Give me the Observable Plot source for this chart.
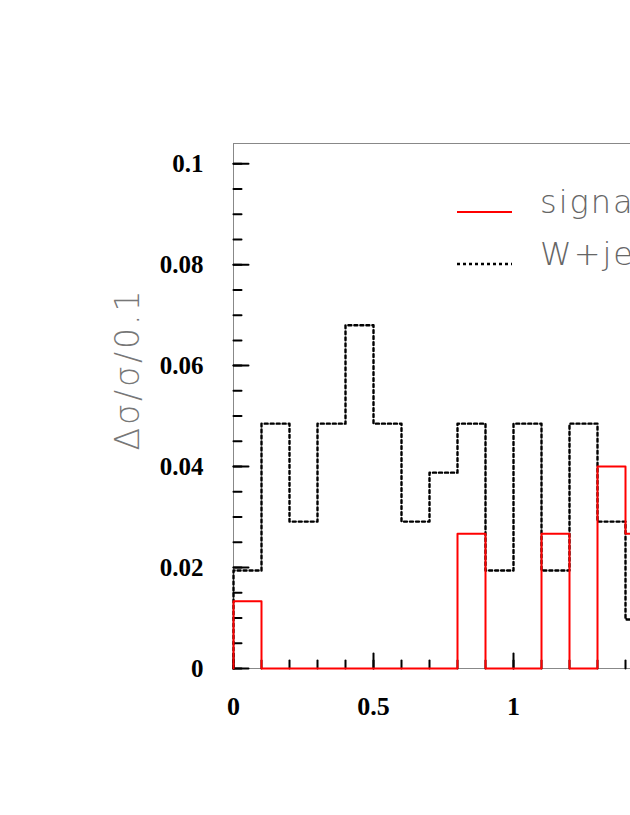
<!DOCTYPE html>
<html>
<head>
<meta charset="utf-8">
<script src="https://cdn.jsdelivr.net/npm/d3@7"></script>
<script src="https://cdn.jsdelivr.net/npm/@observablehq/plot@0.6"></script>
<style>
  html, body { margin: 0; padding: 0; background: #fff; width: 630px; height: 815px; overflow: hidden; }
  #wrap { position: relative; width: 900px; height: 815px; }
  .leg { position: absolute; font-family: "DejaVu Sans", sans-serif; font-weight: 200; font-size: 32px; color: #666; letter-spacing: 2px; white-space: nowrap; line-height: 1; }
  .sw { position: absolute; }
</style>
</head>
<body>
<div id="wrap"></div>
<script>
// ---- data ----
const binEdges = [0, 0.1, 0.2, 0.3, 0.4, 0.5, 0.6, 0.7, 0.8, 0.9, 1.0, 1.1, 1.2, 1.3, 1.4, 1.5];
const wjets  = [0.0194, 0.0485, 0.0291, 0.0485, 0.0680, 0.0485, 0.0291, 0.0388, 0.0485, 0.0194, 0.0485, 0.0194, 0.0485, 0.0291, 0.0097];
const signal = [0.0133, 0, 0, 0, 0, 0, 0, 0, 0.0267, 0, 0, 0.0267, 0, 0.0400, 0.0267];
const seriesNames = ["signal", "W+jets"];
const yTicks = [0, 0.02, 0.04, 0.06, 0.08, 0.1];
const yTickLabels = ["0", "0.02", "0.04", "0.06", "0.08", "0.1"];
const yMinor = d3.range(0, 0.1001, 0.005);
const xTicks = [0, 0.5, 1];
const xTickLabels = ["0", "0.5", "1"];
const xMajor = [0, 0.5, 1, 1.5, 2];
const xMinor = d3.range(0, 2.001, 0.1);
const yTitle = "Δσ/σ/0.1";

function stepPoints(vals) {
  const pts = [{x: binEdges[0], y: 0}];
  vals.forEach((v, i) => pts.push({x: binEdges[i], y: v}));
  pts.push({x: binEdges[vals.length], y: vals[vals.length - 1]});
  pts.push({x: binEdges[vals.length], y: 0});
  return pts;
}

const tickShape = { draw(ctx, l) { ctx.moveTo(0, 0); ctx.lineTo(0, -l); } };
const serif = "'Liberation Serif', 'Times New Roman', serif";

const chart = Plot.plot({
  width: 900, height: 815,
  marginLeft: 233, marginRight: 107, marginTop: 143, marginBottom: 147,
  x: {domain: [0, 2]},
  y: {domain: [0, 0.104]},
  style: {background: "transparent", overflow: "visible"},
  marks: [
    Plot.frame({stroke: "#888", strokeWidth: 1}),
    // y ticks (inward)
    Plot.vector(yMinor, {x: 0, y: d => d, length: 8, rotate: 90, anchor: "start", shape: tickShape, stroke: "black", strokeWidth: 2}),
    Plot.vector(yTicks, {x: 0, y: d => d, length: 15, rotate: 90, anchor: "start", shape: tickShape, stroke: "black", strokeWidth: 2}),
    // x ticks (inward)
    Plot.vector(xMinor, {x: d => d, y: 0, length: 8, anchor: "start", shape: tickShape, stroke: "black", strokeWidth: 2}),
    Plot.vector(xMajor, {x: d => d, y: 0, length: 15, anchor: "start", shape: tickShape, stroke: "black", strokeWidth: 2}),
    Plot.axisY(yTicks, {tickSize: 0, tickPadding: 30, label: null, tickFormat: d => yTickLabels[yTicks.indexOf(d)],
      fontSize: 25, fontWeight: "bold", fontFamily: serif, fill: "black"}),
    Plot.axisX(xTicks, {tickSize: 0, tickPadding: 28, label: null, tickFormat: d => xTickLabels[xTicks.indexOf(d)],
      fontSize: 26, fontWeight: "bold", fontFamily: serif, fill: "black"}),
    Plot.line(stepPoints(wjets), {x: "x", y: "y", curve: "step-after", stroke: "black", strokeWidth: 2.4, strokeDasharray: "3,3"}),
    Plot.line(stepPoints(signal), {x: "x", y: "y", curve: "step-after", stroke: "#ff0000", strokeWidth: 2}),
    Plot.text([yTitle], {frameAnchor: "left", dx: -105, dy: -37, rotate: -90, textAnchor: "middle", fontSize: 33,
      fill: "#777", fontFamily: "'DejaVu Sans', sans-serif", fontWeight: 200})
  ]
});
document.getElementById("wrap").appendChild(chart);
d3.select(chart).selectAll("text").filter(function() { return this.textContent === yTitle; })
  .style("letter-spacing", "3px");
</script>
<script>
// legend (HTML overlay)
const wrap = document.getElementById("wrap");
const legItems = [
  {name: seriesNames[0], stroke: "#ff0000", dash: null, y: 212},
  {name: seriesNames[1], stroke: "black", dash: "3,3", y: 264}
];
legItems.forEach(it => {
  const sw = document.createElementNS("http://www.w3.org/2000/svg", "svg");
  sw.setAttribute("class", "sw");
  sw.setAttribute("width", 60); sw.setAttribute("height", 6);
  sw.style.left = "455px"; sw.style.top = (it.y - 3) + "px";
  const ln = document.createElementNS("http://www.w3.org/2000/svg", "line");
  ln.setAttribute("x1", 2); ln.setAttribute("x2", 57); ln.setAttribute("y1", 3); ln.setAttribute("y2", 3);
  ln.setAttribute("stroke", it.stroke); ln.setAttribute("stroke-width", it.dash ? 2.4 : 2);
  if (it.dash) ln.setAttribute("stroke-dasharray", it.dash);
  sw.appendChild(ln); wrap.appendChild(sw);
  const t = document.createElement("div");
  t.className = "leg"; t.textContent = it.name;
  t.style.left = "540px"; t.style.top = (it.y - 26) + "px";
  wrap.appendChild(t);
});
</script>
</body>
</html>
